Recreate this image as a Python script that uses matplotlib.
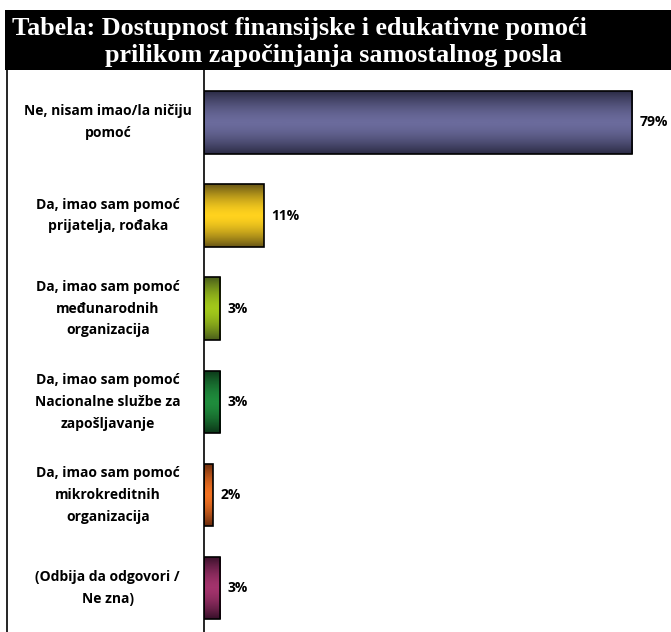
""" Horizontal bar chart: access to financial and educational help
when starting a business.
"""
import matplotlib.pyplot as plt
import matplotlib.colors as mcolors
import numpy as np
from matplotlib.patches import Rectangle

#####################################################
# DATA
#####################################################

categories = [
    "Ne, nisam imao/la ničiju\npomoć",
    "Da, imao sam pomoć\nprijatelja, rođaka",
    "Da, imao sam pomoć\nmeđunarodnih\norganizacija",
    "Da, imao sam pomoć\nNacionalne službe za\nzapošljavanje",
    "Da, imao sam pomoć\nmikrokreditnih\norganizacija",
    "(Odbija da odgovori /\nNe zna)",
]
values = [79, 11, 3, 3, 1.6, 3]
value_labels = ["79%", "11%", "3%", "3%", "2%", "3%"]

# (edge colour, middle colour) of the vertical gradient
bar_colors = [
    ("#2c2c46", "#6b6b9c"),
    ("#6a5816", "#ffd21e"),
    ("#4a5e1c", "#a2c81a"),
    ("#0c3618", "#1f8c3c"),
    ("#6a2c0e", "#f27222"),
    ("#38102a", "#a3336c"),
]

title_line1 = "Tabela: Dostupnost finansijske i edukativne pomoći"
title_line2 = "prilikom započinjanja samostalnog posla"

#####################################################
# PLOT
#####################################################

fig = plt.figure(figsize=(6.71, 6.32), dpi=100)

# title band
fig.patches.append(Rectangle((0.008, 0.889), 0.992, 0.095, transform=fig.transFigure,
                             facecolor="black", edgecolor="none"))
fig.text(0.018, 0.955, title_line1, color="white", fontsize=18.8, fontweight="bold",
         family="Liberation Serif", va="center", ha="left")
fig.text(0.157, 0.912, title_line2, color="white", fontsize=18.8, fontweight="bold",
         family="Liberation Serif", va="center", ha="left")

# left frame line
fig.add_artist(plt.Line2D([0.011, 0.011], [0.0, 0.889], transform=fig.transFigure,
                          color="black", linewidth=1.2))

ax = fig.add_axes([0.304, 0.0, 0.696, 0.889])
y = np.arange(len(categories))
bars = ax.barh(y, values, height=0.67, color="none", edgecolor="black", linewidth=1.2,
               zorder=3)

grad = np.abs(np.linspace(-1, 1, 64)).reshape(-1, 1) ** 1.6
for bar, (edge_c, mid_c) in zip(bars, bar_colors):
    cmap = mcolors.LinearSegmentedColormap.from_list("g", [mid_c, edge_c])
    x0, y0 = bar.get_x(), bar.get_y()
    im = ax.imshow(grad, cmap=cmap, aspect="auto", zorder=2,
                   extent=(x0, x0 + bar.get_width(), y0 + bar.get_height(), y0))
    im.set_clip_path(bar)

for bar, lab in zip(bars, value_labels):
    ax.text(bar.get_width() + 1.4, bar.get_y() + bar.get_height() / 2, lab,
            va="center", ha="left", fontsize=10, fontweight="bold", family="Open Sans")

for yi, cat in zip(y, categories):
    ax.text(-0.206, yi, cat, transform=ax.get_yaxis_transform(), ha="center",
            va="center", fontsize=10, fontweight="bold", family="Open Sans",
            linespacing=1.7)

ax.set_xlim(0, 86.2)
ax.set_ylim(len(categories) - 0.53, -0.56)
ax.set_xticks([])
ax.set_yticks([])
for side in ["top", "right", "bottom"]:
    ax.spines[side].set_visible(False)
ax.spines["left"].set_linewidth(1.2)

fig.savefig("out.png", dpi=100)
